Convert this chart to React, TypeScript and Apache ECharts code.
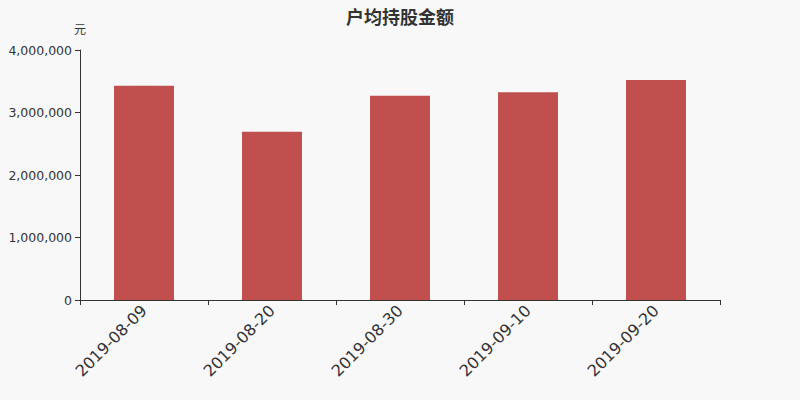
import React, { useEffect, useRef } from "react";
import * as echarts from "echarts";

const categories = ["2019-08-09", "2019-08-20", "2019-08-30", "2019-09-10", "2019-09-20"];
const values = [3428000, 2693000, 3269000, 3326000, 3520000];
const yTicks = { min: 0, max: 4000000, interval: 1000000 };
const title = "户均持股金额";
const yName = "元";

export default function App() {
  const ref = useRef<HTMLDivElement>(null);
  useEffect(() => {
    if (!ref.current) return;
    const chart = echarts.init(ref.current, null, { renderer: "svg" });
    chart.setOption({
      animation: false,
      backgroundColor: "#f8f8f8",
      title: {
        text: title,
        left: "center",
        top: 2,
        textStyle: { fontSize: 18, fontWeight: "bold", color: "#333", fontFamily: "Noto Sans CJK SC" },
      },
      grid: { left: 80, right: 80, top: 50, bottom: 100 },
      xAxis: {
        type: "category",
        data: categories,
        axisLine: { lineStyle: { color: "#333" } },
        axisTick: { show: true, length: 5, lineStyle: { color: "#333" } },
        axisLabel: { rotate: 45, fontSize: 16, color: "#333", fontFamily: "DejaVu Sans", margin: 8 },
      },
      yAxis: {
        type: "value",
        name: yName,
        nameGap: 16,
        nameTextStyle: { color: "#333", fontSize: 12, align: "center", fontFamily: "Noto Sans CJK SC" },
        min: yTicks.min,
        max: yTicks.max,
        interval: yTicks.interval,
        axisLine: { show: true, lineStyle: { color: "#333" } },
        axisTick: { show: true, lineStyle: { color: "#333" } },
        splitLine: { show: false },
        axisLabel: {
          fontSize: 12.5,
          color: "#333",
          fontFamily: "DejaVu Sans",
          formatter: (v: number) => v.toLocaleString("en-US"),
        },
      },
      series: [
        {
          type: "bar",
          data: values,
          barWidth: 60,
          itemStyle: { color: "#c0504d" },
        },
      ],
    });
    return () => chart.dispose();
  }, []);
  return <div ref={ref} style={{ width: 800, height: 400, position: "absolute", left: 0, top: 0 }} />;
}
